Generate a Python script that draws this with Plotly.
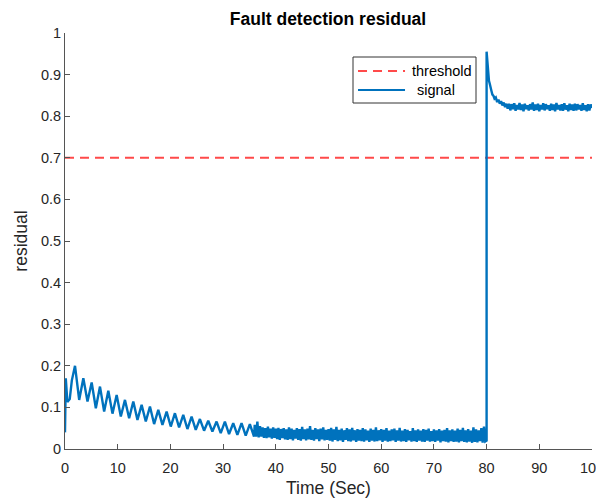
import plotly.graph_objects as go

# ---------------- data ----------------
threshold_t = [0, 100]
threshold_y = [0.7, 0.7]

# start-up transient
start_t = [0.0, 0.03, 0.15, 0.45, 0.9, 1.3]
start_y = [0.04, 0.16, 0.17, 0.113, 0.12, 0.165]

# decaying oscillation: alternating peak / trough
osc_t = [1.9, 2.69, 3.48, 4.27, 5.06, 5.85, 6.64, 7.43, 8.22, 9.01, 9.8, 10.59,
         11.38, 12.17, 12.96, 13.75, 14.54, 15.33, 16.12, 16.91, 17.7, 18.49,
         19.28, 20.07, 20.86, 21.65, 22.44, 23.23, 24.02, 24.81, 25.6, 26.39,
         27.18, 27.97, 28.76, 29.55, 30.34, 31.13, 31.92, 32.71, 33.5, 34.29,
         35.08, 35.87]
osc_y = [0.200, 0.118, 0.170, 0.114, 0.160, 0.098, 0.150, 0.090, 0.140, 0.085,
         0.130, 0.078, 0.118, 0.074, 0.114, 0.070, 0.106, 0.066, 0.102, 0.060,
         0.094, 0.058, 0.090, 0.054, 0.086, 0.052, 0.082, 0.048, 0.078, 0.046,
         0.072, 0.044, 0.068, 0.042, 0.066, 0.038, 0.066, 0.036, 0.062, 0.034,
         0.062, 0.032, 0.060, 0.030]

# noisy steady state before the fault, sampled every 0.25 s from 36 s
pre_start = 36.0
pre_step = 0.25
pre_y = [
    0.058, 0.030, 0.066, 0.028, 0.055, 0.030, 0.052, 0.027,
    0.050, 0.026, 0.054, 0.028, 0.049, 0.025, 0.052, 0.027,
    0.049, 0.024, 0.051, 0.022, 0.048, 0.026, 0.050, 0.023,
    0.047, 0.022, 0.052, 0.024, 0.049, 0.021, 0.046, 0.025,
    0.050, 0.022, 0.048, 0.020, 0.053, 0.024, 0.047, 0.021,
    0.049, 0.023, 0.055, 0.022, 0.046, 0.020, 0.050, 0.024,
    0.047, 0.019, 0.049, 0.023, 0.052, 0.021, 0.046, 0.022,
    0.048, 0.020, 0.051, 0.018, 0.047, 0.022, 0.053, 0.019,
    0.046, 0.021, 0.049, 0.017, 0.045, 0.022, 0.050, 0.019,
    0.047, 0.018, 0.051, 0.021, 0.045, 0.017, 0.048, 0.020,
    0.046, 0.019, 0.050, 0.018, 0.047, 0.021, 0.044, 0.017,
    0.049, 0.020, 0.046, 0.018, 0.052, 0.019, 0.045, 0.021,
    0.048, 0.017, 0.046, 0.020, 0.050, 0.018, 0.044, 0.019,
    0.047, 0.021, 0.049, 0.017, 0.045, 0.020, 0.051, 0.018,
    0.044, 0.019, 0.048, 0.017, 0.046, 0.021, 0.043, 0.018,
    0.050, 0.019, 0.045, 0.017, 0.047, 0.020, 0.044, 0.018,
    0.048, 0.017, 0.046, 0.020, 0.049, 0.018, 0.043, 0.019,
    0.047, 0.017, 0.045, 0.020, 0.048, 0.016, 0.044, 0.019,
    0.046, 0.018, 0.050, 0.016, 0.045, 0.019, 0.047, 0.017,
    0.044, 0.018, 0.049, 0.016, 0.046, 0.019, 0.051, 0.017,
    0.045, 0.016, 0.048, 0.018, 0.044, 0.015, 0.052, 0.017,
    0.047, 0.016, 0.045, 0.019, 0.050, 0.015, 0.054, 0.018,
]

# fault at 80 s: vertical jump and decay
fault_t = [80.0, 80.0, 80.1, 80.2, 80.3, 80.45, 80.6, 80.75, 80.9, 81.1, 81.3, 81.5,
           81.75, 82.0, 82.25, 82.5, 82.75, 83.0, 83.25, 83.5, 83.75]
fault_y = [0.020, 0.955, 0.94, 0.915, 0.905, 0.885, 0.878, 0.866, 0.862, 0.852, 0.849,
           0.842, 0.845, 0.834, 0.840, 0.830, 0.836, 0.826, 0.833, 0.822, 0.830]

# noisy steady state after the fault, every 0.25 s from 84 s
post_start = 84.0
post_step = 0.25
post_y = [
    0.818, 0.830, 0.814, 0.829, 0.817, 0.831, 0.813, 0.827,
    0.816, 0.832, 0.815, 0.828, 0.812, 0.830, 0.817, 0.826,
    0.814, 0.829, 0.816, 0.833, 0.813, 0.828, 0.815, 0.830,
    0.812, 0.827, 0.816, 0.831, 0.814, 0.829, 0.817, 0.826,
    0.813, 0.830, 0.815, 0.828, 0.812, 0.832, 0.816, 0.827,
    0.814, 0.829, 0.813, 0.831, 0.816, 0.826, 0.812, 0.830,
    0.815, 0.828, 0.813, 0.830, 0.814, 0.829, 0.816, 0.827,
    0.813, 0.831, 0.815, 0.826, 0.812, 0.829, 0.814, 0.828, 0.820,
]

series_names = ["threshold", "signal"]
x_ticks = [0, 10, 20, 30, 40, 50, 60, 70, 80, 90, 100]
y_ticks = [0, 0.1, 0.2, 0.3, 0.4, 0.5, 0.6, 0.7, 0.8, 0.9, 1]
y_tick_labels = ["0", "0.1", "0.2", "0.3", "0.4", "0.5", "0.6", "0.7", "0.8", "0.9", "1"]

# ---------------- assemble signal ----------------
pre_t = [pre_start + pre_step * i for i in range(len(pre_y))]
post_t = [post_start + post_step * i for i in range(len(post_y))]
sig_t = start_t + osc_t + pre_t + fault_t + post_t
sig_y = start_y + osc_y + pre_y + fault_y + post_y

FONT = "Liberation Sans, Arial, Helvetica, sans-serif"
TXT = "#262626"
AX = "#555555"
RED = "#ff4a4a"
BLUE = "#0072BD"
RED_DASH = "9px,6px"

fig = go.Figure()
fig.add_trace(go.Scatter(
    x=threshold_t, y=threshold_y, mode="lines", name=series_names[0],
    line=dict(color=RED, width=2, dash=RED_DASH), showlegend=False,
))
fig.add_trace(go.Scatter(
    x=sig_t, y=sig_y, mode="lines", name=series_names[1],
    line=dict(color=BLUE, width=2.4), showlegend=False,
))

# ---- legend box drawn in paper coordinates (MATLAB style) ----
lg_x0, lg_x1, lg_y0, lg_y1 = 0.5465, 0.7799, 0.8317, 0.9423
row_y = [0.9087, 0.8630]
smp_x0, smp_x1 = 0.556, 0.6452
txt_x = [0.6546, 0.6641]
shapes = [
    dict(type="rect", xref="paper", yref="paper", x0=lg_x0, x1=lg_x1, y0=lg_y0, y1=lg_y1,
         line=dict(color="#333333", width=1), fillcolor="white", layer="above"),
    dict(type="line", xref="paper", yref="paper", x0=smp_x0, x1=smp_x1, y0=row_y[0], y1=row_y[0],
         line=dict(color=RED, width=2, dash=RED_DASH), layer="above"),
    dict(type="line", xref="paper", yref="paper", x0=smp_x0, x1=smp_x1, y0=row_y[1], y1=row_y[1],
         line=dict(color=BLUE, width=2), layer="above"),
]
annotations = [
    dict(xref="paper", yref="paper", x=txt_x[i], y=row_y[i], text=series_names[i],
         showarrow=False, xanchor="left", yanchor="middle",
         font=dict(family=FONT, size=14.5, color="black"))
    for i in range(2)
]

fig.update_layout(
    width=596, height=493,
    margin=dict(l=57, r=12, t=25, b=52, autoexpand=False),
    paper_bgcolor="white", plot_bgcolor="white",
    font=dict(family=FONT, size=14.5, color=TXT),
    title=dict(text="<b>Fault detection residual</b>", x=320 / 596, xanchor="center",
               xref="container", yref="container",
               y=1 - 11 / 493, yanchor="middle", font=dict(size=17.5, color="black")),
    showlegend=False,
    shapes=shapes,
    annotations=annotations,
    xaxis=dict(range=[0, 100], tickvals=x_ticks, ticks="inside", ticklen=5,
               tickcolor=AX, showline=True, linecolor=AX, linewidth=1,
               showgrid=False, zeroline=False, mirror=False, automargin=False,
               ticklabelstandoff=6, ticklabeloverflow="allow",
               tickfont=dict(size=14.5, color=TXT),
               title=dict(text="Time (Sec)", font=dict(size=17.5, color=TXT), standoff=6)),
    yaxis=dict(range=[0, 1], tickvals=y_ticks, ticktext=y_tick_labels,
               ticks="inside", ticklen=5, tickcolor=AX, showline=True,
               linecolor=AX, linewidth=1, showgrid=False, zeroline=False,
               mirror=False, automargin=False, ticklabeloverflow="allow",
               tickfont=dict(size=14.5, color=TXT),
               title=dict(text="residual", font=dict(size=17.5, color=TXT), standoff=8)),
)

fig.write_html("out.html")
